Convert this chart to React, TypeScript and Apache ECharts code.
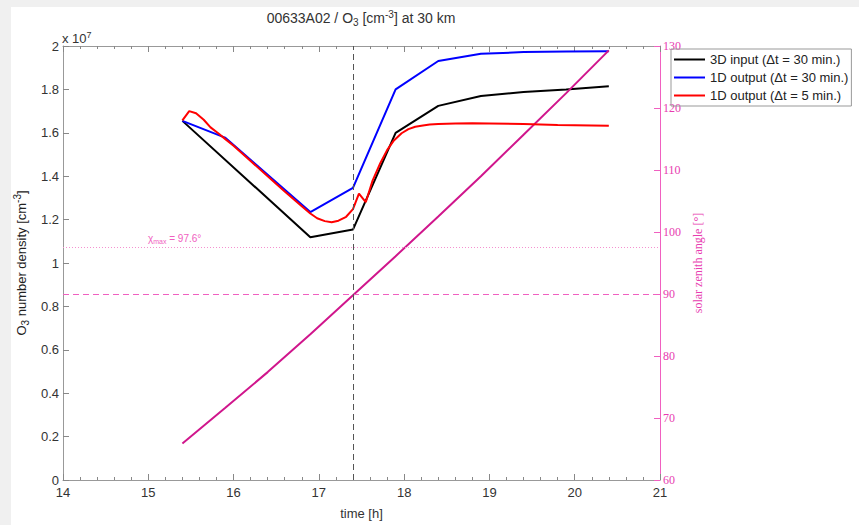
import React, { useEffect, useRef } from "react";
import * as echarts from "echarts";

// 3D input (Δt = 30 min.)
const blackTime = [15.4, 16.9, 17.4, 17.9, 18.4, 18.9, 19.4, 19.9, 20.4];
const blackO3 = [1.655, 1.119, 1.154, 1.6, 1.724, 1.77, 1.788, 1.8, 1.814];

// 1D output (Δt = 30 min.)
const blueTime = [15.4, 15.9, 16.9, 17.4, 17.9, 18.4, 18.9, 19.4, 19.9, 20.4];
const blueO3 = [1.655, 1.578, 1.235, 1.346, 1.8, 1.931, 1.964, 1.972, 1.975, 1.976];

// 1D output (Δt = 5 min.)
const redTime = [
  15.4, 15.48, 15.56, 15.65, 15.73, 15.82, 15.9, 16.0, 16.2, 16.4, 16.6, 16.8, 16.9,
  16.98, 17.07, 17.15, 17.23, 17.32, 17.4, 17.47, 17.55, 17.63, 17.72, 17.8, 17.88,
  17.97, 18.05, 18.13, 18.22, 18.3, 18.4, 18.6, 18.8, 19.0, 19.4, 19.8, 20.4,
];
const redO3 = [
  1.657, 1.7, 1.69, 1.66, 1.625, 1.598, 1.572, 1.54, 1.47, 1.4, 1.33, 1.262, 1.228,
  1.206, 1.193, 1.188, 1.195, 1.213, 1.248, 1.32, 1.28, 1.38, 1.46, 1.52, 1.565,
  1.598, 1.617, 1.628, 1.634, 1.638, 1.641, 1.643, 1.644, 1.643, 1.64, 1.636, 1.632,
];

// solar zenith angle
const szaTime = [15.4, 15.9, 16.4, 16.9, 17.4, 17.9, 18.4, 18.9, 19.4, 19.9, 20.4];
const szaDeg = [65.9, 71.6, 77.4, 83.5, 89.8, 96.1, 102.5, 109.0, 115.7, 122.4, 129.3];

const xTicks = { min: 14, max: 21, interval: 1 };
const o3Ticks = { min: 0, max: 2, interval: 0.2 };
const szaTicks = { min: 60, max: 130, interval: 10 };
const szaRef = 90;
const chiMax = 97.6;
const markTime = 17.4;

const names = ["3D input (Δt = 30 min.)", "1D output (Δt = 30 min.)", "1D output (Δt = 5 min.)"];

const SANS = "'Liberation Sans', Arial, sans-serif";
const SERIF = "'Liberation Serif', 'Times New Roman', serif";
const PINK_AXIS = "#f060c0";
const SZA_COLOR = "#d0168c";

const pair = (t: number[], v: number[]) => t.map((x, i) => [x, v[i]]);

export default function App() {
  const ref = useRef<HTMLDivElement>(null);
  useEffect(() => {
    document.body.style.margin = "0";
    const chart = echarts.init(ref.current!, null, { renderer: "svg" });
    const sub = { fontSize: 10, padding: [8, 0, 0, 0] };
    const sup = { fontSize: 10, padding: [0, 0, 8, 0] };
    chart.setOption({
      animation: false,
      backgroundColor: "#f0f0f0",
      grid: { left: 63, right: 199, top: 46, bottom: 44, containLabel: false },
      graphic: [
        { type: "rect", z: -100, shape: { x: 11, y: 7, width: 848, height: 518 }, style: { fill: "#fff" }, silent: true },
        {
          type: "text",
          x: 361,
          y: 18,
          style: {
            text: "00633A02 / O{sub|3} [cm{sup|-3}] at 30 km",
            font: `14px ${SANS}`,
            fill: "#333",
            align: "center",
            verticalAlign: "middle",
            rich: { sub: { ...sub, fontFamily: SANS, fill: "#333" }, sup: { ...sup, fontFamily: SANS, fill: "#333" } },
          },
        },
        {
          type: "text",
          x: 62,
          y: 38,
          style: {
            text: "x 10{sup|7}",
            font: `13px ${SANS}`,
            fill: "#333",
            align: "left",
            verticalAlign: "middle",
            rich: { sup: { fontSize: 9, padding: [0, 0, 7, 0], fontFamily: SANS, fill: "#333" } },
          },
        },
        {
          type: "text",
          x: 148,
          y: 238,
          style: {
            text: "χ{sub|max} = " + chiMax + "°",
            font: `10px ${SANS}`,
            fill: PINK_AXIS,
            align: "left",
            verticalAlign: "middle",
            rich: { sub: { fontSize: 7, padding: [6, 0, 0, 0], fontFamily: SANS, fill: PINK_AXIS } },
          },
        },
      ],
      legend: {
        left: 671,
        top: 49,
        orient: "vertical",
        data: names,
        icon: "rect",
        itemWidth: 31,
        itemHeight: 2,
        itemGap: 5,
        padding: [4, 3, 4, 3],
        borderColor: "#999",
        borderWidth: 1,
        textStyle: { fontFamily: SANS, fontSize: 13, color: "#222" },
      },
      xAxis: [
        {
          type: "value",
          ...xTicks,
          name: "time [h]",
          nameLocation: "middle",
          nameGap: 27,
          nameTextStyle: { fontFamily: SANS, fontSize: 13, color: "#333" },
          axisLine: { lineStyle: { color: "#999", width: 1 } },
          axisTick: { inside: true, length: 6, lineStyle: { color: "#888" } },
          minorTick: { show: true, splitNumber: 5, length: 3, lineStyle: { color: "#888" } },
          axisLabel: { fontFamily: SANS, fontSize: 13, color: "#333", margin: 6 },
          splitLine: { show: false },
        },
        {
          type: "value",
          position: "top",
          ...xTicks,
          axisLine: { lineStyle: { color: "#999", width: 1 } },
          axisTick: { inside: true, length: 6, lineStyle: { color: "#888" } },
          minorTick: { show: true, splitNumber: 5, length: 3, lineStyle: { color: "#888" } },
          axisLabel: { show: false },
          splitLine: { show: false },
        },
      ],
      yAxis: [
        {
          type: "value",
          ...o3Ticks,
          name: "O{sub|3} number density [cm{sup|-3}]",
          nameLocation: "middle",
          nameGap: 30,
          nameRotate: 90,
          nameTextStyle: {
            fontFamily: SANS,
            fontSize: 13,
            color: "#222",
            rich: { sub: { ...sub, fontFamily: SANS, color: "#222" }, sup: { ...sup, fontFamily: SANS, color: "#222" } },
          },
          axisLine: { show: true, lineStyle: { color: "#999", width: 1 } },
          axisTick: { show: true, inside: true, length: 6, lineStyle: { color: "#888" } },
          axisLabel: { fontFamily: SANS, fontSize: 13, color: "#333", margin: 4 },
          splitLine: { show: false },
        },
        {
          type: "value",
          position: "right",
          ...szaTicks,
          name: "solar zenith angle [°]",
          nameLocation: "middle",
          nameGap: 28,
          nameRotate: 90,
          nameTextStyle: { fontFamily: SERIF, fontSize: 12, color: "#e83cb0" },
          axisLine: { show: true, lineStyle: { color: PINK_AXIS, width: 1 } },
          axisTick: { show: true, inside: true, length: 6, lineStyle: { color: PINK_AXIS } },
          axisLabel: { fontFamily: SERIF, fontSize: 12, color: "#e83cb0", margin: 3 },
          splitLine: { show: false },
        },
      ],
      series: [
        {
          name: names[0],
          type: "line",
          data: pair(blackTime, blackO3),
          symbol: "none",
          color: "#000",
          lineStyle: { color: "#000", width: 2 },
          z: 3,
        },
        {
          name: names[1],
          type: "line",
          data: pair(blueTime, blueO3),
          symbol: "none",
          color: "#0000ff",
          lineStyle: { color: "#0000ff", width: 2 },
          z: 3,
        },
        {
          name: names[2],
          type: "line",
          data: pair(redTime, redO3),
          symbol: "none",
          color: "#ff0000",
          lineStyle: { color: "#ff0000", width: 2 },
          z: 4,
        },
        {
          name: "sza",
          type: "line",
          yAxisIndex: 1,
          data: pair(szaTime, szaDeg),
          symbol: "none",
          color: SZA_COLOR,
          lineStyle: { color: SZA_COLOR, width: 2 },
          z: 3,
          markLine: {
            silent: true,
            symbol: ["none", "none"],
            label: { show: false },
            data: [
              { yAxis: szaRef, lineStyle: { color: PINK_AXIS, type: [6, 4], width: 1 } },
              { yAxis: chiMax, lineStyle: { color: "#f590d0", type: [1, 2], width: 1 } },
              { xAxis: markTime, lineStyle: { color: "#555", type: [6, 4], width: 1 } },
            ],
          },
        },
      ],
    });
    return () => chart.dispose();
  }, []);
  return <div ref={ref} style={{ width: 859, height: 525 }} />;
}
